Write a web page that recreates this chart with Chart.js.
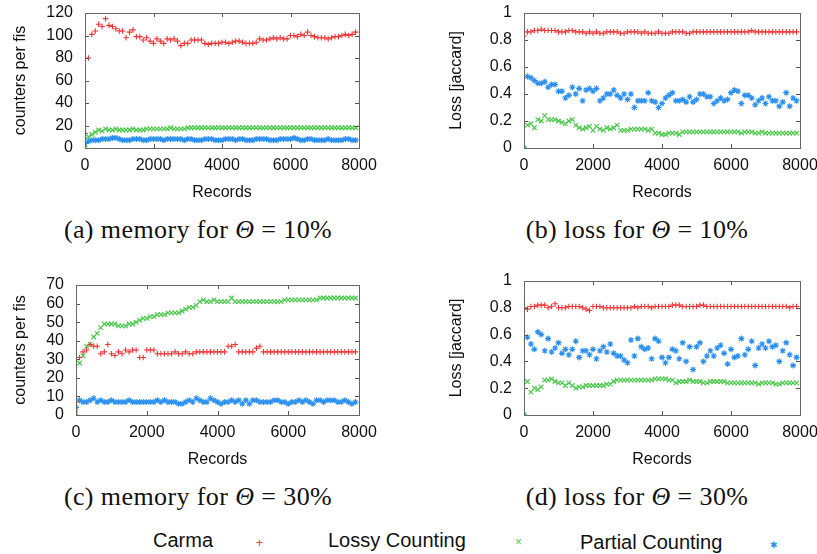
<!DOCTYPE html>
<html>
<head>
<meta charset="utf-8">
<script src="https://cdn.jsdelivr.net/npm/chart.js@4.4.1/dist/chart.umd.min.js"></script>
<style>
  html, body { margin: 0; padding: 0; background: #fff; overflow: hidden; }
  body { width: 817px; height: 554px; position: relative; font-family: "Liberation Sans", Arial, sans-serif; color: #111; }
  .cv { position: absolute; }
  .cap { position: absolute; font-family: "Liberation Serif", "Times New Roman", serif; font-size: 26px; letter-spacing: 0.4px; white-space: nowrap; color: #111; transform: translateX(-50%); }
  .cap i { font-style: italic; }
  .leg { position: absolute; font-size: 20px; white-space: nowrap; color: #111; }
  .sym { position: absolute; font-size: 12px; line-height: 12px; }
</style>
</head>
<body>
<div class="cv" style="left:0;top:0;width:380px;height:210px"><canvas id="ca"></canvas></div>
<div class="cv" style="left:427px;top:0;width:395px;height:210px"><canvas id="cb"></canvas></div>
<div class="cv" style="left:0;top:270px;width:380px;height:207px"><canvas id="cc"></canvas></div>
<div class="cv" style="left:427px;top:266px;width:395px;height:211px"><canvas id="cd"></canvas></div>

<div class="cap" style="left:198px;top:215px">(a) memory for <i>Θ</i> = 10%</div>
<div class="cap" style="left:637px;top:215px">(b) loss for <i>Θ</i> = 10%</div>
<div class="cap" style="left:198px;top:482px">(c) memory for <i>Θ</i> = 30%</div>
<div class="cap" style="left:637px;top:482px">(d) loss for <i>Θ</i> = 30%</div>

<div class="leg" style="left:153px;top:529px">Carma</div>
<div class="sym" style="left:256px;top:537px;color:#f03535">+</div>
<div class="leg" style="left:328px;top:529px">Lossy Counting</div>
<div class="sym" style="left:515px;top:536px;color:#45c845">×</div>
<div class="leg" style="left:580px;top:531px">Partial Counting</div>
<div class="sym" style="left:770px;top:539px;color:#2a8ff0;font-size:9px">✱</div>

<script>
// ---------- DATA ----------
const records = [0,100,200,300,400,500,600,700,800,900,1000,1100,1200,1300,1400,1500,1600,1700,1800,1900,
  2000,2100,2200,2300,2400,2500,2600,2700,2800,2900,3000,3100,3200,3300,3400,3500,3600,3700,3800,3900,
  4000,4100,4200,4300,4400,4500,4600,4700,4800,4900,5000,5100,5200,5300,5400,5500,5600,5700,5800,5900,
  6000,6100,6200,6300,6400,6500,6600,6700,6800,6900,7000,7100,7200,7300,7400,7500,7600,7700,7800,7900];

const seriesNames = ["Carma", "Lossy Counting", "Partial Counting"];

// (a) memory, theta = 10%
const memCarma10 = [13,80,101,104,110,108,115,109,108,106,104,104,98,103,105,99,99,96,98,95,
  93,97,95,93,97,96,97,95,91,93,93,96,96,96,96,93,92,93,93,93,
  94,94,93,94,95,95,94,93,93,93,94,97,96,96,97,98,97,98,97,97,
  100,100,99,101,100,103,100,99,98,98,98,97,98,99,99,100,101,100,101,103];
const memLossy10 = [0,10,12,14,16,15,17,16,16,17,16,16,16,16,17,16,16,16,17,17,
  17,17,17,17,17,18,17,17,17,17,18,18,18,18,18,18,18,18,18,18,
  18,18,18,18,18,18,18,18,18,18,18,18,18,18,18,18,18,18,18,18,
  18,18,18,18,18,18,18,18,18,18,18,18,18,18,18,18,18,18,18,18];
const memPartial10 = [4,6,7,7,7,8,8,8,9,9,8,7,7,7,8,8,8,7,7,8,
  8,8,8,7,8,8,8,8,8,7,8,8,7,7,7,8,8,8,7,7,
  7,8,8,8,7,8,8,7,7,7,8,8,8,8,7,7,7,8,8,8,
  8,9,8,7,7,8,8,7,7,7,7,8,7,7,7,7,8,8,7,7];

// (b) loss, theta = 10%
const lossCarma10 = [0.83,0.86,0.86,0.87,0.87,0.88,0.87,0.87,0.87,0.87,0.86,0.86,0.86,0.87,0.87,0.86,0.86,0.86,0.85,0.86,
  0.85,0.86,0.85,0.85,0.86,0.86,0.86,0.86,0.85,0.85,0.86,0.86,0.86,0.86,0.85,0.86,0.85,0.85,0.85,0.86,
  0.85,0.85,0.85,0.86,0.86,0.86,0.86,0.85,0.85,0.86,0.86,0.86,0.86,0.86,0.86,0.86,0.86,0.86,0.86,0.86,
  0.86,0.86,0.86,0.86,0.86,0.86,0.87,0.86,0.86,0.86,0.86,0.86,0.86,0.86,0.86,0.86,0.86,0.86,0.86,0.86];
const lossLossy10 = [0,0.17,0.18,0.15,0.21,0.20,0.24,0.21,0.21,0.21,0.20,0.19,0.18,0.20,0.21,0.17,0.15,0.14,0.15,0.16,
  0.13,0.16,0.14,0.13,0.15,0.14,0.15,0.17,0.13,0.13,0.13,0.14,0.14,0.14,0.14,0.14,0.13,0.14,0.11,0.11,
  0.10,0.10,0.11,0.11,0.11,0.10,0.12,0.12,0.12,0.12,0.12,0.12,0.12,0.12,0.12,0.12,0.12,0.12,0.12,0.12,
  0.12,0.12,0.12,0.11,0.12,0.12,0.12,0.11,0.11,0.12,0.11,0.11,0.11,0.11,0.11,0.11,0.11,0.11,0.11,0.11];
const lossPartial10 = [0,0.53,0.52,0.50,0.48,0.48,0.49,0.45,0.47,0.47,0.42,0.42,0.37,0.39,0.45,0.40,0.44,0.35,0.43,0.44,
  0.42,0.44,0.35,0.37,0.40,0.40,0.43,0.39,0.37,0.40,0.36,0.40,0.30,0.35,0.35,0.35,0.41,0.35,0.34,0.30,
  0.33,0.37,0.39,0.41,0.35,0.35,0.36,0.34,0.38,0.34,0.36,0.40,0.40,0.38,0.38,0.33,0.35,0.37,0.35,0.36,
  0.41,0.43,0.42,0.33,0.39,0.39,0.37,0.32,0.35,0.37,0.33,0.38,0.35,0.35,0.31,0.34,0.41,0.31,0.37,0.35];

// (c) memory, theta = 30%
const memCarma30 = [7,31,34,35,38,37,37,33,34,38,33,32,34,33,35,34,35,35,31,31,
  35,35,35,33,33,33,33,33,34,33,33,34,33,33,34,34,34,34,34,34,
  34,34,34,37,37,38,34,34,34,34,34,36,37,34,34,34,34,34,34,34,
  34,34,34,34,34,34,34,34,34,34,34,34,34,34,34,34,34,34,34,34];
const memLossy30 = [1,28,32,37,38,42,44,47,49,49,49,49,48,48,48,49,49,50,51,52,
  52,53,53,54,54,54,55,55,55,55,56,57,58,58,59,61,62,61,61,62,
  61,61,61,61,63,61,61,61,61,61,61,61,61,61,61,61,61,61,61,62,
  62,62,62,62,62,62,62,62,62,63,63,63,63,63,63,63,63,63,63,63];
const memPartial30 = [4,8,7,7,8,9,7,8,7,7,8,7,7,7,7,8,7,7,7,7,
  7,7,7,8,7,8,7,7,7,6,6,7,8,7,9,8,7,7,9,8,
  7,6,7,7,8,7,8,6,8,6,8,8,7,7,7,7,8,8,7,7,
  6,7,7,8,7,8,7,6,8,8,7,8,8,8,7,7,8,7,6,7];

// (d) loss, theta = 30%
const lossCarma30 = [0.80,0.79,0.81,0.81,0.82,0.82,0.82,0.80,0.81,0.83,0.80,0.80,0.80,0.81,0.81,0.81,0.81,0.80,0.79,0.78,
  0.81,0.81,0.81,0.80,0.80,0.80,0.80,0.80,0.80,0.80,0.80,0.80,0.81,0.80,0.81,0.81,0.81,0.80,0.81,0.81,
  0.81,0.81,0.81,0.82,0.82,0.82,0.81,0.81,0.81,0.81,0.81,0.82,0.82,0.81,0.81,0.81,0.81,0.81,0.81,0.81,
  0.81,0.81,0.81,0.81,0.81,0.81,0.81,0.81,0.81,0.81,0.81,0.81,0.81,0.81,0.81,0.81,0.81,0.80,0.81,0.81];
const lossLossy30 = [0,0.25,0.17,0.20,0.19,0.21,0.26,0.26,0.27,0.25,0.24,0.24,0.22,0.24,0.22,0.20,0.21,0.21,0.22,0.22,
  0.22,0.22,0.22,0.22,0.23,0.23,0.25,0.26,0.26,0.26,0.26,0.26,0.26,0.26,0.26,0.26,0.26,0.26,0.27,0.27,
  0.27,0.27,0.26,0.26,0.24,0.25,0.25,0.25,0.26,0.25,0.25,0.25,0.24,0.24,0.25,0.25,0.25,0.25,0.25,0.24,
  0.24,0.24,0.24,0.24,0.24,0.24,0.24,0.24,0.23,0.24,0.24,0.24,0.24,0.23,0.23,0.24,0.24,0.24,0.24,0.24];
const lossPartial30 = [0,0.58,0.53,0.49,0.62,0.60,0.48,0.57,0.47,0.50,0.54,0.46,0.49,0.45,0.49,0.55,0.43,0.48,0.48,0.45,
  0.49,0.42,0.48,0.51,0.47,0.53,0.46,0.44,0.44,0.41,0.39,0.56,0.44,0.57,0.51,0.49,0.50,0.42,0.57,0.55,
  0.43,0.39,0.43,0.49,0.48,0.42,0.54,0.40,0.51,0.34,0.51,0.54,0.40,0.44,0.48,0.44,0.50,0.52,0.46,0.38,
  0.49,0.43,0.44,0.57,0.45,0.49,0.55,0.37,0.50,0.53,0.50,0.55,0.51,0.52,0.40,0.48,0.54,0.45,0.37,0.43];

const xTicks = [0, 2000, 4000, 6000, 8000];
const memTicks10 = [0, 20, 40, 60, 80, 100, 120];
const memTicks30 = [0, 10, 20, 30, 40, 50, 60, 70];
const lossTicks = [0, 0.2, 0.4, 0.6, 0.8, 1];

// ---------- STYLE ----------
const RED = '#f03535', GREEN = '#45c845', BLUE = '#2a8ff0';
const FONT = { family: '"Liberation Sans", Arial, sans-serif', size: 16 };

const framePlugin = {
  id: 'frame',
  afterDatasetsDraw(chart) {
    const { ctx, chartArea: a, scales } = chart;
    ctx.save();
    ctx.strokeStyle = '#555';
    ctx.lineWidth = 1;
    ctx.beginPath();
    const L = 4;
    scales.x.ticks.forEach(t => {
      const px = Math.round(scales.x.getPixelForValue(t.value)) + 0.5;
      ctx.moveTo(px, a.bottom); ctx.lineTo(px, a.bottom - L);
      ctx.moveTo(px, a.top); ctx.lineTo(px, a.top + L);
    });
    scales.y.ticks.forEach(t => {
      const py = Math.round(scales.y.getPixelForValue(t.value)) + 0.5;
      ctx.moveTo(a.left, py); ctx.lineTo(a.left + L, py);
      ctx.moveTo(a.right, py); ctx.lineTo(a.right - L, py);
    });
    ctx.stroke();
    ctx.strokeStyle = '#666';
    ctx.strokeRect(Math.round(a.left) + 0.5, Math.round(a.top) + 0.5,
                   Math.round(a.right - a.left), Math.round(a.bottom - a.top));
    ctx.restore();
  }
};

function pts(ys) { return records.map((x, i) => ({ x: x, y: ys[i] })); }

function makeChart(id, series, yMax, yTickVals, yTitle, cfg) {
  const styles = [
    { color: RED, style: 'cross', r: 2.8 },
    { color: GREEN, style: 'crossRot', r: 3.2 },
    { color: BLUE, style: 'star', r: 3.0 }
  ];
  new Chart(document.getElementById(id), {
    type: 'scatter',
    data: {
      datasets: series.map((s, i) => ({
        label: seriesNames[i],
        data: pts(s),
        pointStyle: styles[i].style,
        pointRadius: styles[i].r,
        pointBorderWidth: 1.1,
        borderColor: styles[i].color,
        backgroundColor: styles[i].color,
        showLine: false
      }))
    },
    options: {
      responsive: true,
      maintainAspectRatio: false,
      animation: false,
      events: [],
      layout: { padding: { top: cfg.padTop, right: cfg.padRight, left: 0, bottom: 0 } },
      plugins: { legend: { display: false }, tooltip: { enabled: false } },
      scales: {
        x: {
          type: 'linear', min: 0, max: 8000,
          afterBuildTicks: s => { s.ticks = xTicks.map(v => ({ value: v })); },
          afterFit: s => { s.height = 62; s.paddingLeft = 0; s.paddingRight = 0; },
          grid: { display: false, drawTicks: false },
          border: { display: false },
          ticks: { color: '#111', font: FONT, padding: 8, maxRotation: 0, autoSkip: false,
                   callback: v => String(v) },
          title: { display: true, text: 'Records', color: '#111', font: FONT, padding: { top: 0, bottom: 8 } }
        },
        y: {
          type: 'linear', min: 0, max: yMax,
          afterBuildTicks: s => { s.ticks = yTickVals.map(v => ({ value: v })); },
          afterFit: s => { s.width = cfg.yWidth; s.paddingTop = 0; s.paddingBottom = 0; },
          grid: { display: false, drawTicks: false },
          border: { display: false },
          ticks: { color: '#111', font: FONT, padding: 12, autoSkip: false,
                   callback: v => String(v) },
          title: { display: true, text: yTitle, color: '#111', font: FONT, padding: { top: cfg.yTitlePad, bottom: 0 } }
        }
      }
    },
    plugins: [framePlugin]
  });
}

makeChart('ca', [memCarma10, memLossy10, memPartial10], 120, memTicks10, 'counters per fis',
  { padTop: 13, padRight: 21, yWidth: 85, yTitlePad: 11 });
makeChart('cb', [lossCarma10, lossLossy10, lossPartial10], 1, lossTicks, 'Loss [jaccard]',
  { padTop: 13, padRight: 22, yWidth: 97, yTitlePad: 20 });
makeChart('cc', [memCarma30, memLossy30, memPartial30], 70, memTicks30, 'counters per fis',
  { padTop: 15, padRight: 21, yWidth: 76, yTitlePad: 11 });
makeChart('cd', [lossCarma30, lossLossy30, lossPartial30], 1, lossTicks, 'Loss [jaccard]',
  { padTop: 15, padRight: 22, yWidth: 97, yTitlePad: 20 });
</script>
</body>
</html>
